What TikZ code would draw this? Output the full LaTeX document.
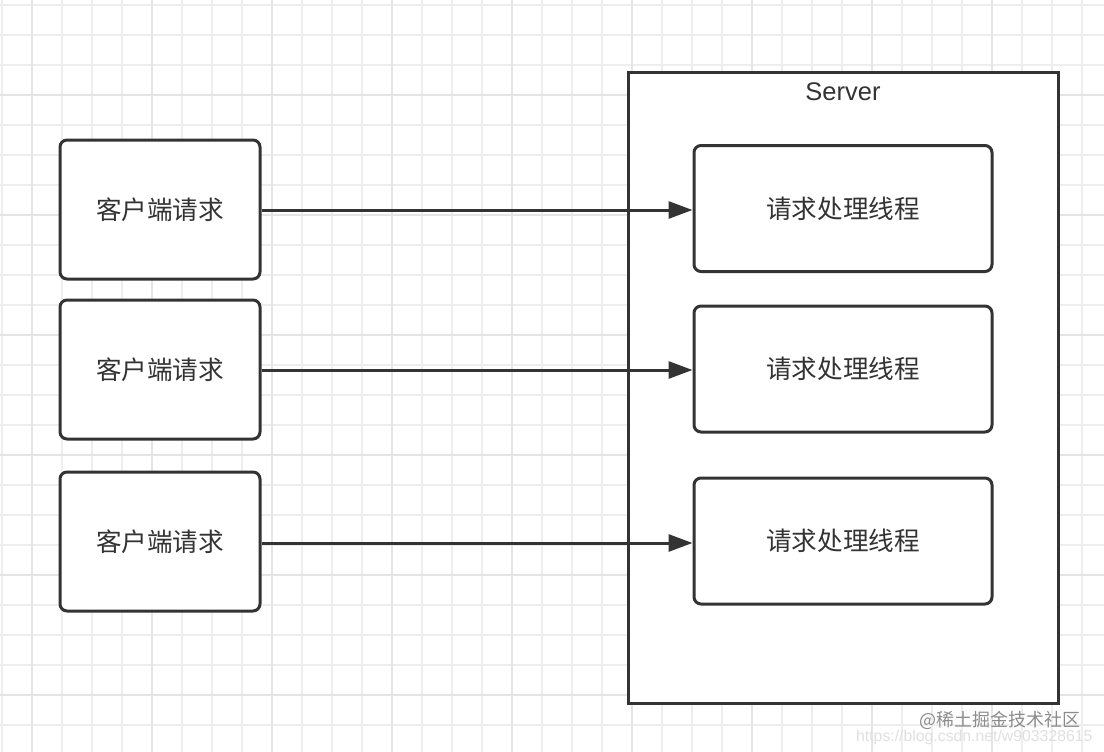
\documentclass[tikz,border=0pt]{standalone}
\usepackage{fontspec}
\setmainfont{Liberation Sans}
\newfontfamily\cjk{Noto Sans CJK SC}
\usetikzlibrary{arrows.meta}
\definecolor{ink}{HTML}{333333}
\definecolor{gridc}{HTML}{EEEEEE}
\definecolor{gridd}{HTML}{E4E4E4}
\tikzset{
  box/.style={draw=ink, line width=3pt, rounded corners=7pt, minimum width=200pt, minimum height=139pt, inner sep=0pt, fill=white, text=ink, font=\cjk\fontsize{25.6}{30}\selectfont},
  thread/.style={box, minimum width=298pt, minimum height=126pt},
  conn/.style={draw=ink, line width=3pt, -{Triangle[length=24pt,width=17pt]}},
}
\begin{document}
\begin{tikzpicture}[x=1pt,y=-1pt]
\useasboundingbox (0,0) rectangle (1104,752);
\fill[white] (0,0) rectangle (1104,752);
% grid
\foreach \x in {2,32,...,1102} \draw[gridc, line width=1.5pt] (\x,0) -- (\x,752);
\foreach \y in {5,35,...,750} \draw[gridc, line width=1.5pt] (0,\y) -- (1104,\y);
\foreach \x in {32,152,...,1102} \draw[gridd, line width=1.5pt] (\x,0) -- (\x,752);
\foreach \y in {95,215,...,750} \draw[gridd, line width=1.5pt] (0,\y) -- (1104,\y);
% server
\node[draw=ink, line width=3pt, minimum width=430pt, minimum height=630pt, inner sep=0pt, fill=white] (server) at (843,388) {};
\node[text=ink, font=\fontsize{25.5}{30}\selectfont, anchor=base] (slabel) at (843,100) {Server};
% clients
\node[box] (c1) at (160,209.5) {客户端请求};
\node[box] (c2) at (160,369.5) {客户端请求};
\node[box] (c3) at (160,541.5) {客户端请求};
% threads
\node[thread] (t1) at (843,208.5) {请求处理线程};
\node[thread] (t2) at (843,369) {请求处理线程};
\node[thread] (t3) at (843,541) {请求处理线程};
% connectors
\draw[conn] (c1.east |- 0,210) -- (t1.west |- 0,210);
\draw[conn] (c2.east |- 0,370) -- (t2.west |- 0,370);
\draw[conn] (c3.east |- 0,543) -- (t3.west |- 0,543);
% watermark
\node[anchor=east, text=black!45, font=\cjk\fontsize{18}{21}\selectfont] (wm1) at (1084,720) {@稀土掘金技术社区};
\node[anchor=east, text=black!12, font=\fontsize{15.8}{19}\selectfont] (wm2) at (1096,737) {https://blog.csdn.net/w903328615};
\end{tikzpicture}
\end{document}
